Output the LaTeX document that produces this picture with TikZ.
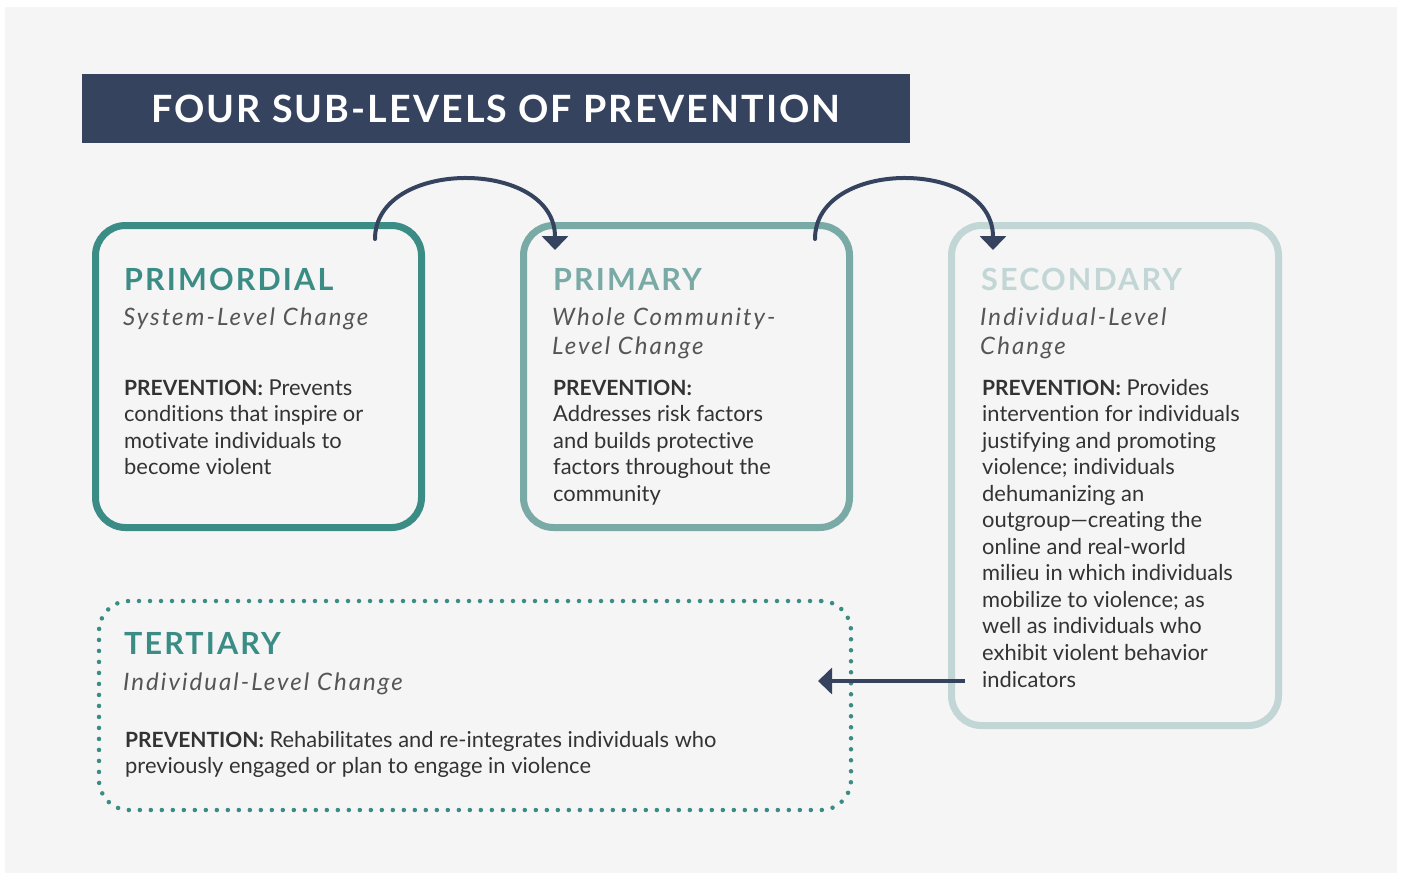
\documentclass[tikz,border=0pt]{standalone}
\usepackage{fontspec}
\setmainfont{Lato}[Ligatures=NoCommon]
\newfontfamily\headfont{Lato}[LetterSpace=7]
\newfontfamily\subfont{Lato}[LetterSpace=8.5]
\newfontfamily\titlefont{Lato}[LetterSpace=5.5]
\usetikzlibrary{arrows.meta}
\definecolor{bgc}{HTML}{F5F5F5}
\definecolor{navy}{HTML}{36435F}
\definecolor{tealA}{HTML}{3B8C85}
\definecolor{tealB}{HTML}{7AAAA6}
\definecolor{tealC}{HTML}{C1D6D5}
\definecolor{bodytxt}{HTML}{333333}
\definecolor{subtxt}{HTML}{555555}
\newcommand\prevlabel{{\fontsize{21}{26}\selectfont\bfseries PREVENTION:}}
\tikzset{
  lvlbox/.style={draw=#1, rounded corners=30pt, line width=7pt, inner sep=0pt},
  dotbox/.style={draw=tealA, rounded corners=30pt, line width=4.5pt, dash pattern=on 0pt off 11pt, line cap=round, inner sep=0pt},
  head/.style={anchor=base west, inner sep=0pt, text=#1, font=\headfont\bfseries\fontsize{30.5}{36}\selectfont},
  sub/.style={anchor=base west, inner sep=0pt, text=subtxt, font=\subfont\itshape\fontsize{24}{29}\selectfont},
  body/.style={anchor=base west, inner sep=0pt, text=bodytxt, font=\fontsize{21.9}{26}\selectfont},
  flow/.style={draw=navy, line width=4pt, line cap=round, -{Triangle[width=26pt,length=14pt]}},
}
\begin{document}
\begin{tikzpicture}[x=1pt,y=-1pt]
\useasboundingbox (0,0) rectangle (1403,873);
\fill[white] (0,0) rectangle (1403,873);
\fill[bgc] (5,7) rectangle (1397,873);
% title
\node[fill=navy, minimum width=828pt, minimum height=69pt, inner sep=0pt, text=white,
  font=\titlefont\bfseries\fontsize{37.6}{44}\selectfont] (title) at (496,108.5) {FOUR SUB-LEVELS OF PREVENTION};
% boxes
\node[lvlbox=tealA, minimum width=326pt, minimum height=302pt] (b1) at (258.5,376.5) {};
\node[lvlbox=tealB, minimum width=326pt, minimum height=302pt] (b2) at (686.5,376.5) {};
\node[lvlbox=tealC, minimum width=327pt, minimum height=500pt] (b3) at (1115,475.5) {};
\node[dotbox, minimum width=752pt, minimum height=209pt] (b4) at (475,705.5) {};
% box 1 text
\node[head=tealA] (h1) at (124,290) {PRIMORDIAL};
\node[sub] (s1) at (123,325) {System-Level Change};
\foreach \t [count=\i from 0] in {\prevlabel{} Prevents, conditions that inspire or, motivate individuals to, become violent}
  \node[body] (t1l\i) at (124,395+26.5*\i) {\t};
% box 2 text
\node[head=tealB] (h2) at (553,290) {PRIMARY};
\node[sub] (s2a) at (552,325) {Whole Community-};
\node[sub] (s2b) at (552,354) {Level Change};
\foreach \t [count=\i from 0] in {\prevlabel, Addresses risk factors, and builds protective, factors throughout the, community}
  \node[body] (t2l\i) at (553,395+26.5*\i) {\t};
% box 3 text
\node[head=tealC] (h3) at (981,290) {SECONDARY};
\node[sub] (s3a) at (980,325) {Individual-Level};
\node[sub] (s3b) at (980,354) {Change};
\foreach \t [count=\i from 0] in {\prevlabel{} Provides, intervention for individuals, justifying and promoting, violence; individuals, dehumanizing an, outgroup—creating the, online and real-world, milieu in which individuals, mobilize to violence; as, well as individuals who, exhibit violent behavior, indicators}
  \node[body] (t3l\i) at (982,395+26.55*\i) {\t};
% box 4 text
\node[head=tealA] (h4) at (124,654) {TERTIARY};
\node[sub] (s4) at (123,690) {Individual-Level Change};
\node[body] (t4l0) at (125,747) {\prevlabel{} Rehabilitates and re-integrates individuals who};
\node[body] (t4l1) at (125,773) {previously engaged or plan to engage in violence};
% connectors
\coordinate (a1s) at (375,239);
\coordinate (a1e) at (555,250);
\coordinate (a2s) at (815,239);
\coordinate (a2e) at (993,250);
\coordinate (a3s) at (965,681);
\coordinate (a3e) at (818,681);
\draw[flow] (a1s) .. controls (375,158) and (555,158) .. (a1e);
\draw[flow] (a2s) .. controls (815,158) and (993,158) .. (a2e);
\draw[flow, line cap=butt] (a3s) -- (a3e);
\end{tikzpicture}
\end{document}
